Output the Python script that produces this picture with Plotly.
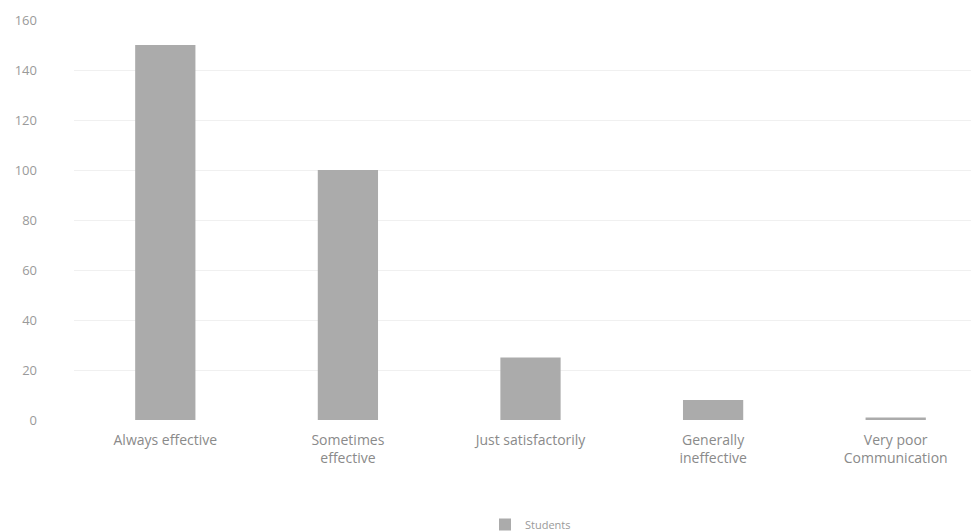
import plotly.graph_objects as go

categories = ["Always effective", "Sometimes<br>effective", "Just satisfactorily",
              "Generally<br>ineffective", "Very poor<br>Communication"]
students = [150, 100, 25, 8, 1]
y_ticks = [0, 20, 40, 60, 80, 100, 120, 140, 160]

fig = go.Figure()
fig.add_trace(go.Bar(x=categories, y=students, name="Students",
                     marker=dict(color="#ababab", line=dict(width=0))))

fig.update_layout(
    width=979, height=531,
    paper_bgcolor="white", plot_bgcolor="white",
    margin=dict(l=66, r=0, t=12, b=118),
    bargap=0.67,
    font=dict(family="Open Sans", color="#8a8a8a", size=13),
    showlegend=True,
    legend=dict(orientation="h", x=0.5, xanchor="center", y=-0.225, yanchor="top",
                font=dict(size=11, color="#9a9a9a"), itemwidth=30),
    xaxis=dict(showgrid=False, showline=False, ticks="", ticklabelstandoff=10,
               tickfont=dict(size=14, color="#8a8a8a")),
    yaxis=dict(range=[0, 160], tickvals=y_ticks, showgrid=True, gridcolor="#f0f0f0",
               zeroline=False, showline=False, ticks="", ticklabelstandoff=36,
               tickfont=dict(size=13, color="#9a9a9a")),
)

fig.write_html("out.html")
